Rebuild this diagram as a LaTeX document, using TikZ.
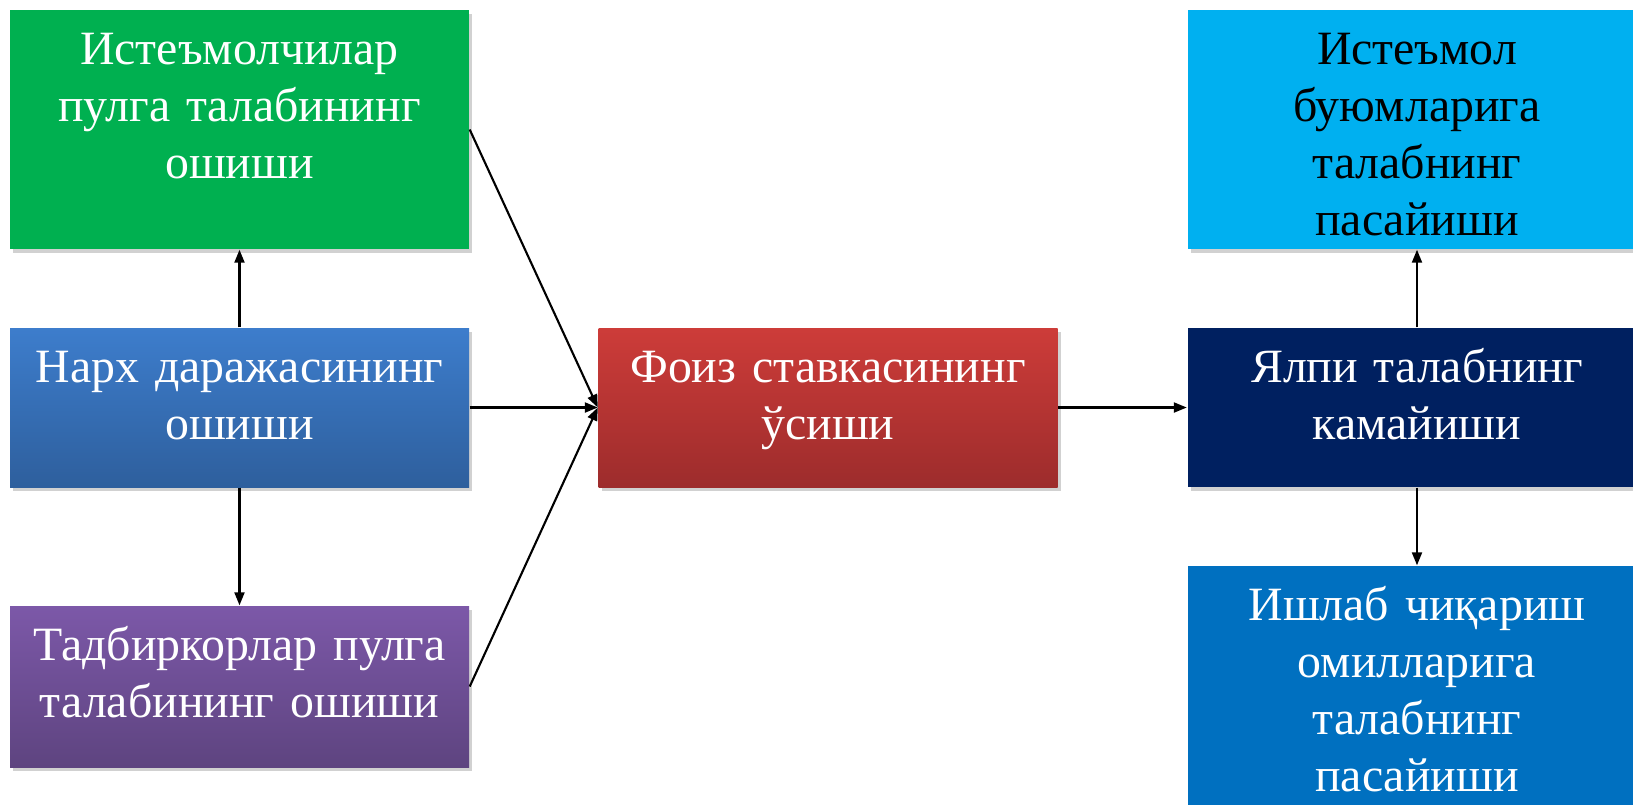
\documentclass[tikz,border=0pt]{standalone}
\usepackage{fontspec}
\setmainfont{Liberation Serif}[WordSpace=0.85]
\usetikzlibrary{arrows.meta,shadows}

\definecolor{boxgreen}{HTML}{00B050}
\definecolor{pricetop}{HTML}{3D7DCC}
\definecolor{pricebot}{HTML}{2E5F9D}
\definecolor{firmtop}{HTML}{7C58A8}
\definecolor{firmbot}{HTML}{5E4480}
\definecolor{ratetop}{HTML}{CD3C39}
\definecolor{ratebot}{HTML}{9D2C2C}
\definecolor{boxnavy}{HTML}{002060}
\definecolor{boxsky}{HTML}{00B0F0}
\definecolor{boxblue}{HTML}{0070C0}

\tikzset{
	box/.style={inner sep=0pt, text=white, align=center, text width=4.4cm,
		minimum width=4.59cm, text height=0.54cm,
		font=\fontsize{13.6pt}{16.3pt}\selectfont,
		drop shadow={shadow xshift=0.03cm, shadow yshift=-0.04cm, opacity=0.3, fill=black!60}},
	tall/.style={box, text depth=1.85cm},
	short/.style={box, text depth=1.05cm},
	link/.style={line width=0.6pt, ->}
}

\begin{document}
\begin{tikzpicture}[>={Triangle[length=0.13cm,width=0.1cm]}]
			\useasboundingbox (0,0) rectangle (16.33,-8.04);
			\clip (0,0) rectangle (16.33,-8.04);
			\node[tall, fill=boxgreen] (consumers) at (2.395,-1.295) {Истеъмолчилар\\пулга талабининг\\ошиши};
			\node[short, top color=pricetop, bottom color=pricebot] (price) at (2.395,-4.075) {Нарх даражасининг\\ошиши};
			\node[short, text depth=1.07cm, top color=firmtop, bottom color=firmbot] (firms) at (2.395,-6.865) {Тадбиркорлар пулга\\талабининг ошиши};
			\node[short, top color=ratetop, bottom color=ratebot] (rate) at (8.28,-4.075) {Фоиз ставкасининг\\ўсиши};
			\node[short, fill=boxnavy] (aggregate) at (14.17,-4.075) {Ялпи талабнинг\\камайиши};
			\node[tall, fill=boxsky, text=black] (goods) at (14.17,-1.295) {Истеъмол\\буюмларига\\талабнинг\\пасайиши};
			\node[tall, fill=boxblue] (factors) at (14.17,-6.855) {Ишлаб чиқариш\\омилларига\\талабнинг\\пасайиши};
			\draw[link] (price) -- (consumers);
			\draw[link] (price) -- (firms);
			\draw[link] (price) -- (rate);
			\draw[link] (consumers.east) -- (rate.west);
			\draw[link] (firms.east) -- (rate.west);
			\draw[link] (rate) -- (aggregate);
			\draw[link] (aggregate) -- (goods);
			\draw[link] (aggregate) -- (factors);
			\end{tikzpicture}
\end{document}
